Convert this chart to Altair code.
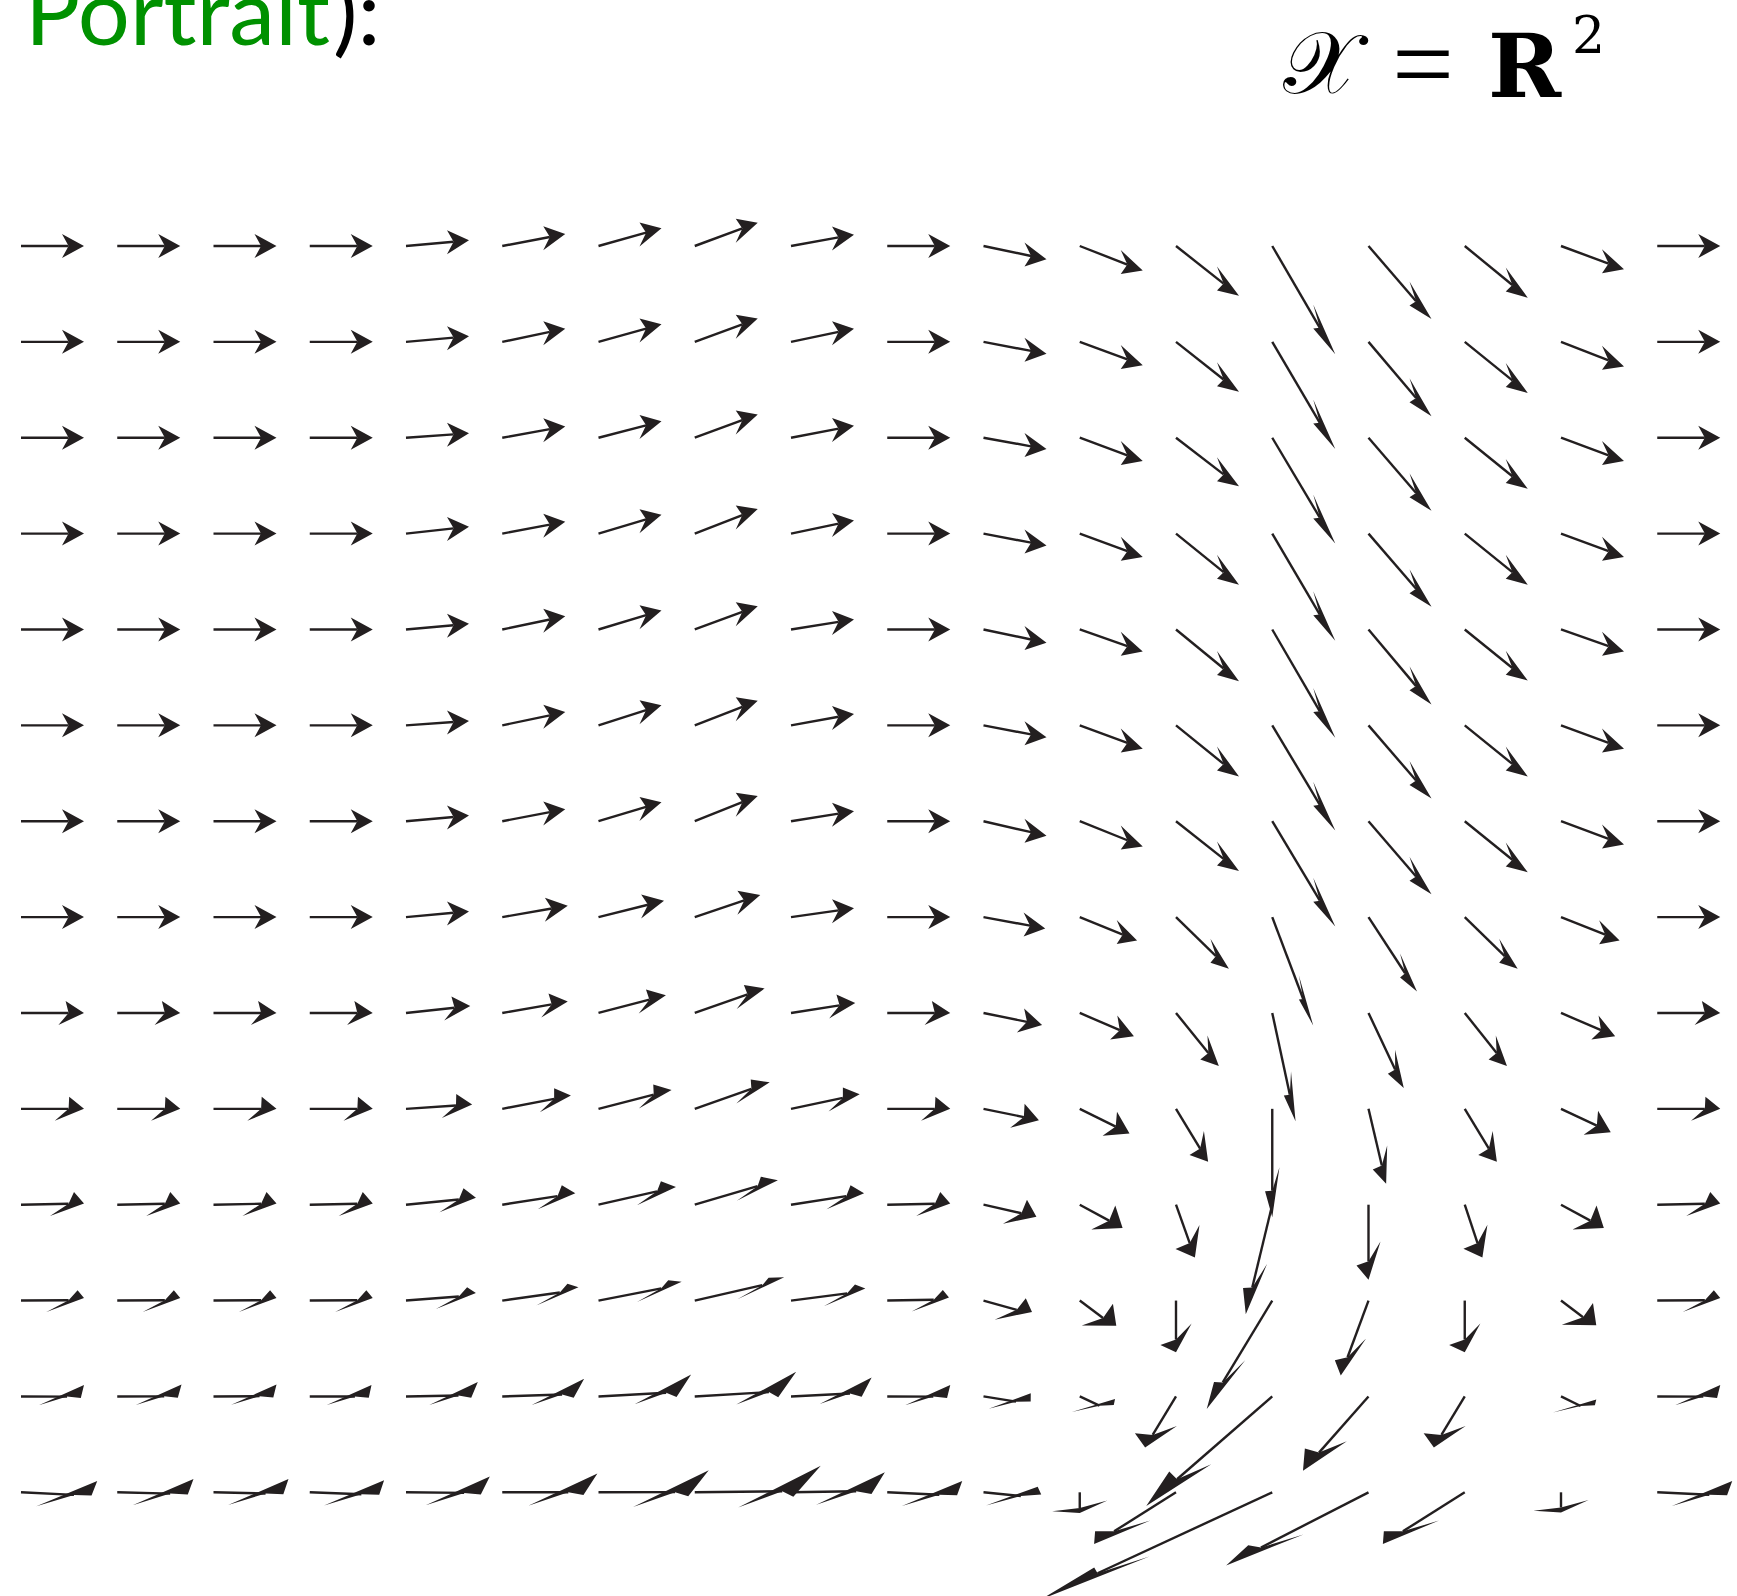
import math
import altair as alt
import pandas as pd

# Canvas and sampling grid of the direction field (pixels)
WIDTH, HEIGHT = 1737, 1596
N_COLS, N_ROWS = 18, 14
X_FIRST, X_STEP = 21.0, 96.25
Y_FIRST, Y_STEP = 246.0, 95.87

INK = "#231f20"
GREEN = "#009100"

# Field components at each grid point (u to the right, v upward),
# in units of the reference arrow length.  One list per grid row, top to bottom.
U_ROWS = [
    [1, 1, 1, 1, 1, 1, 1, 1, 1, 1, 1, 1, 1, 1, 1, 1, 1, 1],
    [1, 1, 1, 1, 1, 1, 1, 1, 1, 1, 1, 1, 1, 1, 1, 1, 1, 1],
    [1, 1, 1, 1, 1, 1, 1, 1, 1, 1, 1, 1, 1, 1, 1, 1, 1, 1],
    [1, 1, 1, 1, 1, 1, 1, 1, 1, 1, 1, 1, 1, 1, 1, 1, 1, 1],
    [1, 1, 1, 1, 1, 1, 1, 1, 1, 1, 1, 1, 1, 1, 1, 1, 1, 1],
    [1, 1, 1, 1, 1, 1, 1, 1, 1, 1, 1, 1, 1, 1, 1, 1, 1, 1],
    [1, 1, 1, 1, 1, 1, 1, 1, 1, 1, 1, 1, 1, 1, 1, 1, 1, 1],
    [1, 1, 1, 1, 1, 1.04, 1.04, 1.04, 1, 1, 0.98, 0.91, 0.84, 0.65, 0.77, 0.84, 0.93, 1],
    [1, 1, 1, 1, 1.02, 1.04, 1.07, 1.11, 1.02, 1, 0.93, 0.86, 0.68, 0.37, 0.56, 0.67, 0.86, 1],
    [1, 1, 1, 1, 1.05, 1.09, 1.16, 1.19, 1.09, 1, 0.88, 0.79, 0.51, 0, 0.28, 0.51, 0.79, 1],
    [1, 1, 1, 1, 1.11, 1.16, 1.23, 1.32, 1.16, 1, 0.84, 0.68, 0.30, -0.42, 0, 0.28, 0.68, 1],
    [1, 1, 1, 1, 1.11, 1.21, 1.32, 1.42, 1.18, 0.98, 0.77, 0.58, 0, -1.04, -0.44, 0, 0.56, 1],
    [1, 1.02, 1, 0.98, 1.14, 1.30, 1.47, 1.61, 1.28, 1, 0.75, 0.56, -0.49, -2.00, -1.04, -0.49, 0.56, 1],
    [1.21, 1.21, 1.19, 1.18, 1.33, 1.51, 1.75, 2.00, 1.49, 1.19, 0.86, 0, -1.30, -3.67, -2.26, -1.30, 0, 1.19],
]
V_ROWS = [
    [0, 0, 0, 0, 0.09, 0.19, 0.28, 0.37, 0.18, 0, -0.21, -0.39, -0.79, -1.72, -1.16, -0.82, -0.37, 0],
    [0, 0, 0, 0, 0.09, 0.21, 0.28, 0.37, 0.21, 0, -0.19, -0.37, -0.79, -1.70, -1.18, -0.81, -0.39, 0],
    [0, 0, 0, 0, 0.07, 0.18, 0.26, 0.37, 0.19, 0, -0.18, -0.37, -0.77, -1.68, -1.16, -0.81, -0.37, 0],
    [0, 0, 0, 0, 0.11, 0.19, 0.30, 0.39, 0.21, 0, -0.19, -0.37, -0.81, -1.70, -1.16, -0.81, -0.37, 0],
    [0, 0, 0, 0, 0.09, 0.21, 0.30, 0.37, 0.16, 0, -0.21, -0.35, -0.82, -1.72, -1.19, -0.81, -0.35, 0],
    [0, 0, 0, 0, 0.07, 0.21, 0.32, 0.39, 0.18, 0, -0.19, -0.37, -0.81, -1.67, -1.16, -0.81, -0.37, 0],
    [0, 0, 0, 0, 0.09, 0.19, 0.30, 0.40, 0.16, 0, -0.23, -0.40, -0.79, -1.67, -1.16, -0.81, -0.37, 0],
    [0, 0, 0, 0, 0.09, 0.18, 0.26, 0.35, 0.14, 0, -0.18, -0.37, -0.82, -1.72, -1.18, -0.82, -0.37, 0],
    [0, 0, 0, 0, 0.11, 0.18, 0.28, 0.39, 0.16, 0, -0.19, -0.37, -0.84, -1.72, -1.19, -0.84, -0.37, 0],
    [0, 0, 0, 0, 0.07, 0.21, 0.30, 0.42, 0.23, 0, -0.18, -0.39, -0.84, -1.72, -1.19, -0.84, -0.37, 0],
    [0.02, 0.02, 0.02, 0.02, 0.11, 0.18, 0.28, 0.39, 0.18, 0.02, -0.19, -0.37, -0.84, -1.74, -1.19, -0.84, -0.37, 0.02],
    [0.04, 0.04, 0.04, 0.04, 0.12, 0.21, 0.30, 0.37, 0.19, 0.05, -0.18, -0.40, -0.82, -1.72, -1.19, -0.82, -0.39, 0.04],
    [0.18, 0.19, 0.19, 0.18, 0.23, 0.28, 0.35, 0.39, 0.30, 0.18, 0.05, -0.04, -0.81, -1.74, -1.18, -0.81, -0.05, 0.18],
    [0.18, 0.21, 0.21, 0.19, 0.25, 0.30, 0.35, 0.42, 0.32, 0.18, 0.09, -0.33, -0.82, -1.70, -1.16, -0.82, -0.32, 0.18],
]

# Arrow glyph (pixels): unit length, head length, head half width, notch depth
UNIT_LEN = 63.0
HEAD_LEN, HEAD_HALF_W, NOTCH = 22.0, 12.0, 0.7
# Per-row distortion of the arrowheads (the glyph is carried through the map)
HEAD_SKEW = [0, 0, 0, 0, 0, 0, 0, 0, -0.3, -0.6, -1.0, -1.3, -1.75, -2.3]
HEAD_SQUASH = [1, 1, 1, 1, 1, 1, 1, 1, 1, 1, 1, 0.9, 0.3, 0.45]
HEAD_TILT = [0, 0, 0, 0, 0, 0, 0, 0, 0, 0, 0, 0.1, 0.5, 0.45]
HEAD_STRETCH = [1, 1, 1, 1, 1, 1, 1, 1, 1, 1, 1, 1, 1.1, 1.25]


def fmt(p):
    return f"{p[0]:.2f},{p[1]:.2f}"


records = []
for r in range(N_ROWS):
    for c in range(N_COLS):
        ux, uy = U_ROWS[r][c], -V_ROWS[r][c]          # screen direction (y down)
        ax = ux
        ay = uy - HEAD_TILT[r] * max(ux, 0.0)          # head axis
        h = HEAD_LEN
        if ux > 0:
            norm = math.hypot(ax, ay)
            if norm < 1:                               # keep forward heads full size
                ax, ay = ax / norm, ay / norm
            h = HEAD_LEN * HEAD_STRETCH[r]
        bx, by = HEAD_SKEW[r], HEAD_SQUASH[r]          # head cross direction
        tip_dx, tip_dy = UNIT_LEN * ux, UNIT_LEN * uy
        notch = (-NOTCH * h * ax, -NOTCH * h * ay)
        barb1 = (-h * ax + HEAD_HALF_W * bx, -h * ay + HEAD_HALF_W * by)
        barb2 = (-h * ax - HEAD_HALF_W * bx, -h * ay - HEAD_HALF_W * by)
        tx = c + tip_dx / X_STEP
        ty = r + tip_dy / Y_STEP
        records.append({
            "col": c, "row": r,
            "tx": tx, "ty": ty,
            "nx": tx + notch[0] / X_STEP, "ny": ty + notch[1] / Y_STEP,
            "head": f"M0,0L{fmt(barb1)}L{fmt(notch)}L{fmt(barb2)}Z",
        })
arrows = pd.DataFrame(records)

x_scale = alt.Scale(domain=[-X_FIRST / X_STEP, (WIDTH - X_FIRST) / X_STEP], nice=False, zero=False)
y_scale = alt.Scale(domain=[-Y_FIRST / Y_STEP, (HEIGHT - Y_FIRST) / Y_STEP], nice=False, zero=False, reverse=True)

base = alt.Chart(arrows)

shafts = base.mark_rule(color=INK, strokeWidth=2.4, strokeCap="butt").encode(
    x=alt.X("col:Q", scale=x_scale, axis=None),
    y=alt.Y("row:Q", scale=y_scale, axis=None),
    x2="nx:Q",
    y2="ny:Q",
)

heads = base.mark_point(filled=True, size=4, opacity=1, color=INK, strokeWidth=0).encode(
    x=alt.X("tx:Q", scale=x_scale, axis=None),
    y=alt.Y("ty:Q", scale=y_scale, axis=None),
    shape=alt.Shape("head:N", scale=None),
)


def label(text, x, y, size, color="black", font="Lato", weight="normal", style="normal", align="left"):
    return alt.Chart(pd.DataFrame({"t": [text]})).mark_text(
        align=align, baseline="alphabetic", font=font, fontSize=size,
        fontWeight=weight, fontStyle=style, color=color,
    ).encode(text="t:N", x=alt.value(x), y=alt.value(y))


title_word = label("Portrait", 25, 45, 92, color=GREEN)
title_tail = label("):", 333, 45, 92)
space_sym = label("\U0001D4B3", 1283, 93, 88, font="DejaVu Serif")
equals = label("=", 1423, 101, 110, font="Liberation Serif", align="center")
reals = label("R", 1488, 97, 88, font="DejaVu Serif", weight="bold")
power = label("2", 1572, 53, 52, font="DejaVu Serif")

chart = alt.layer(
    shafts, heads, title_word, title_tail, space_sym, equals, reals, power
).properties(
    width=WIDTH, height=HEIGHT, padding=0,
    autosize=alt.AutoSizeParams(type="none"),
    background="white",
).configure_view(stroke=None)

chart.save("out.html", embed_options={"renderer": "svg", "actions": False})
